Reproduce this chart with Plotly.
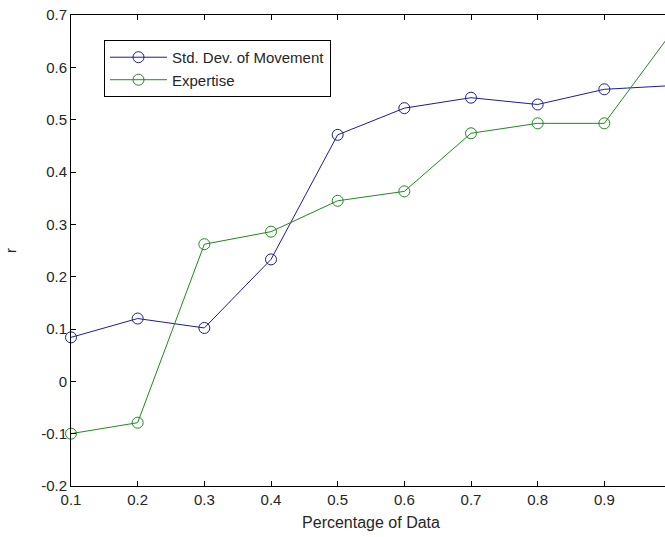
import plotly.graph_objects as go

x_vals = [0.1, 0.2, 0.3, 0.4, 0.5, 0.6, 0.7, 0.8, 0.9, 1.0]
std_dev = [0.084, 0.120, 0.102, 0.233, 0.471, 0.522, 0.542, 0.529, 0.558, 0.565]
expertise = [-0.100, -0.079, 0.262, 0.286, 0.345, 0.363, 0.474, 0.493, 0.493, 0.665]

x_ticks = [0.1, 0.2, 0.3, 0.4, 0.5, 0.6, 0.7, 0.8, 0.9, 1.0]
x_ticktext = ["0.1", "0.2", "0.3", "0.4", "0.5", "0.6", "0.7", "0.8", "0.9", "1"]
y_ticks = [-0.2, -0.1, 0.0, 0.1, 0.2, 0.3, 0.4, 0.5, 0.6, 0.7]
y_ticktext = ["-0.2", "-0.1", "0", "0.1", "0.2", "0.3", "0.4", "0.5", "0.6", "0.7"]

BLUE = "#1c1c9c"
GREEN = "#1f8a1f"
FONT = "Liberation Sans, Arial, sans-serif"
TXT = "#262626"

fig = go.Figure()
fig.add_trace(go.Scatter(
    x=x_vals, y=std_dev, name="Std. Dev. of Movement", mode="lines+markers",
    line=dict(color=BLUE, width=1),
    marker=dict(symbol="circle-open", size=11, color=BLUE, line=dict(width=1)),
    cliponaxis=False,
))
fig.add_trace(go.Scatter(
    x=x_vals, y=expertise, name="Expertise", mode="lines+markers",
    line=dict(color=GREEN, width=1),
    marker=dict(symbol="circle-open", size=11, color=GREEN, line=dict(width=1)),
    cliponaxis=False,
))

axis_common = dict(
    showline=True, linecolor="black", linewidth=1, mirror="ticks",
    ticks="inside", ticklen=5, tickcolor="black", tickwidth=1,
    showgrid=False, zeroline=False, automargin=False,
    tickfont=dict(family=FONT, size=15, color=TXT),
)

fig.update_layout(
    width=700, height=537,
    margin=dict(l=71, r=29, t=15, b=51),
    paper_bgcolor="white", plot_bgcolor="white",
    font=dict(family=FONT, size=15, color=TXT),
    showlegend=True,
    legend=dict(
        x=0.055, y=0.947, xanchor="left", yanchor="top",
        bordercolor="black", borderwidth=1, bgcolor="white",
        font=dict(family=FONT, size=15, color=TXT),
        tracegroupgap=0, itemwidth=57,
    ),
    xaxis=dict(
        range=[0.1, 1.0], tickvals=x_ticks, ticktext=x_ticktext,
        title=dict(text="Percentage of Data", standoff=9,
                   font=dict(family=FONT, size=16, color=TXT)),
        **axis_common,
    ),
    yaxis=dict(
        range=[-0.2, 0.7], tickvals=y_ticks, ticktext=y_ticktext,
        title=dict(text="r", standoff=20,
                   font=dict(family=FONT, size=15, color=TXT)),
        **axis_common,
    ),
)

fig.write_html(
    "out.html",
    config={"displayModeBar": False},
    post_script="document.body.style.margin='0';document.body.style.overflow='hidden';document.documentElement.style.overflow='hidden';",
)
